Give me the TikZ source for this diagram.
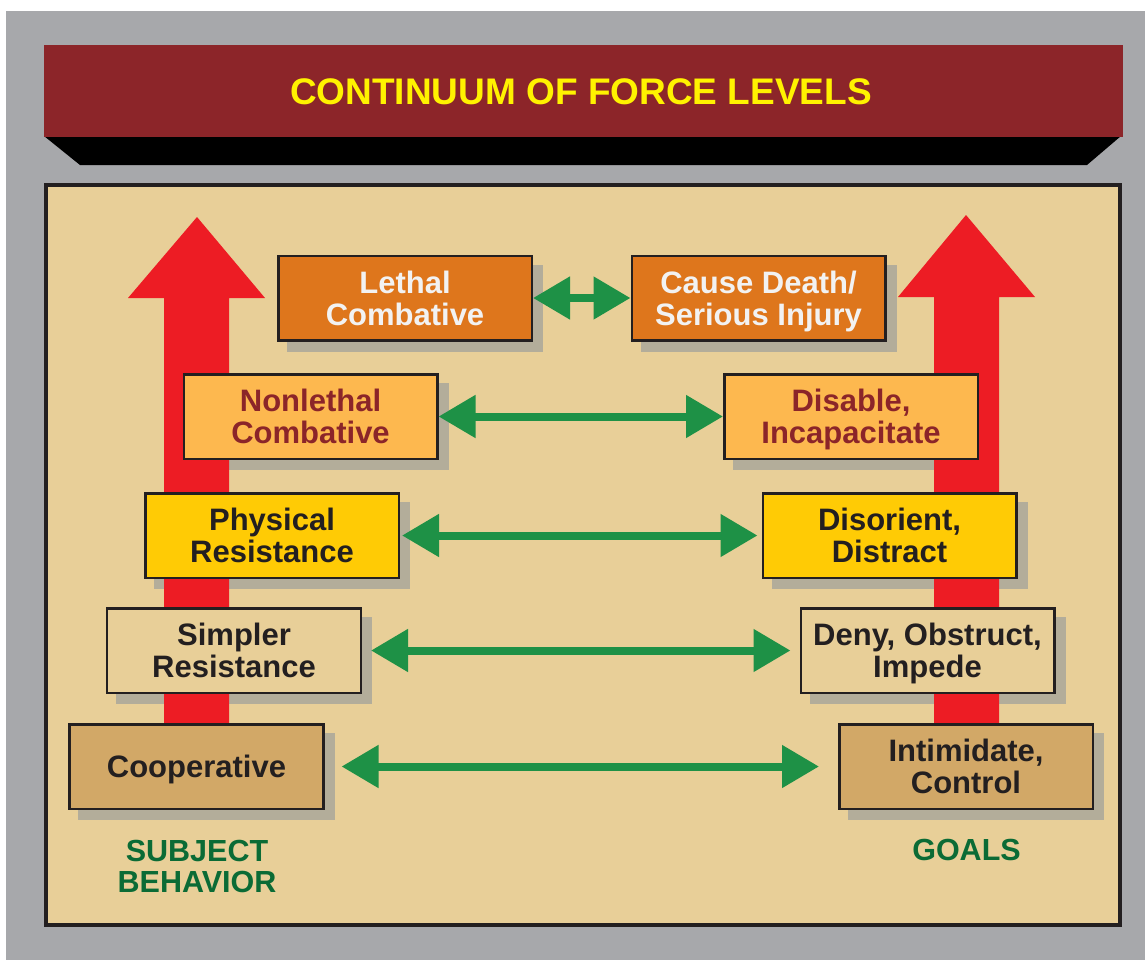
\documentclass[tikz,border=0pt]{standalone}
\usepackage{fontspec}
\setmainfont{Liberation Sans}
\usetikzlibrary{arrows.meta}
\definecolor{grayc}{HTML}{A7A8AB}
\definecolor{titlec}{HTML}{8C2529}
\definecolor{titletextc}{HTML}{FFF200}
\definecolor{panelc}{HTML}{E8CF98}
\definecolor{edgec}{HTML}{231F20}
\definecolor{redc}{HTML}{ED1C24}
\definecolor{greenc}{HTML}{1E9146}
\definecolor{labelc}{HTML}{0B6B35}
\definecolor{lethalc}{HTML}{DE761C}
\definecolor{whitec}{HTML}{F2F2F2}
\definecolor{nonc}{HTML}{FDB84F}
\definecolor{darkredc}{HTML}{8B2529}
\definecolor{physc}{HTML}{FFCB05}
\definecolor{coopc}{HTML}{D2A867}
\definecolor{shadowc}{HTML}{B3AD9A}
\pgfdeclarelayer{panel}
\pgfdeclarelayer{shadowl}
\pgfdeclarelayer{redl}
\pgfsetlayers{panel,shadowl,redl,main}
\tikzset{
  box/.style={draw=edgec, line width=2.5bp, minimum width=253.5bp, minimum height=84.5bp,
    inner sep=0pt, align=center, text height=54bp, text depth=0pt,
    font=\fontsize{31bp}{32bp}\selectfont\bfseries, text=edgec},
  oneline/.style={text height=22bp},
  link/.style={draw=greenc, line width=8bp, <->, >={Triangle[length=37bp,width=41bp]}},
  sidelabel/.style={align=center, text=labelc, font=\fontsize{30.5bp}{31bp}\selectfont\bfseries},
  redarrow/.style={fill=redc}
}
\begin{document}
\begin{tikzpicture}[x=1bp,y=-1bp]
\useasboundingbox (0,0) rectangle (1145,960);
\begin{pgfonlayer}{panel}
  \fill[white] (0,0) rectangle (1145,960);
  \fill[grayc] (6,11) rectangle (1145,960);
  \fill[black] (44,136) -- (1121,136) -- (1087,165) -- (80,165) -- cycle;
  \fill[titlec] (44,45) rectangle (1123,137);
  \draw[edgec, line width=4bp, fill=panelc] (46,185.3) rectangle (1119.7,925.3);
\end{pgfonlayer}

\node[text=titletextc, font=\fontsize{37bp}{40bp}\selectfont\bfseries] (title) at (581,91.5) {CONTINUUM OF FORCE LEVELS};

\node[box, fill=lethalc, text=whitec] (lethal) at (405,298) {Lethal\\Combative};
\node[box, fill=lethalc, text=whitec] (death) at (758.5,298) {Cause Death/\\Serious Injury};
\node[box, fill=nonc, text=darkredc] (nonlethal) at (310.5,416.5) {Nonlethal\\Combative};
\node[box, fill=nonc, text=darkredc] (disable) at (851,416.5) {Disable,\\Incapacitate};
\node[box, fill=physc] (physical) at (272,535.5) {Physical\\Resistance};
\node[box, fill=physc] (disorient) at (889.5,535.5) {Disorient,\\Distract};
\node[box, fill=panelc] (simpler) at (234,650.5) {Simpler\\Resistance};
\node[box, fill=panelc] (deny) at (927.5,650.5) {Deny, Obstruct,\\Impede};
\node[box, oneline, fill=coopc] (coop) at (196.5,766.5) {Cooperative};
\node[box, fill=coopc] (intim) at (966,766.5) {Intimidate,\\Control};

\begin{pgfonlayer}{shadowl}
  \foreach \n in {lethal,death,nonlethal,disable,physical,disorient,simpler,deny,coop,intim}
    \fill[shadowc] ([shift={(10bp,-10bp)}]\n.south west) rectangle ([shift={(10bp,-10bp)}]\n.north east);
\end{pgfonlayer}

\begin{pgfonlayer}{redl}
  \fill[redarrow] (164,740) -- (164,298) -- (128,298) -- (197,217) -- (265,298) -- (229,298) -- (229,740) -- cycle;
  \fill[redarrow] (934,740) -- (934,297) -- (898,297) -- (966,215) -- (1035,297) -- (999,297) -- (999,740) -- cycle;
\end{pgfonlayer}

\draw[link] (lethal.east) -- (death.west);
\draw[link] (nonlethal.east) -- (disable.west);
\draw[link, shorten <=2bp, shorten >=4bp] (physical.east) -- (disorient.west);
\draw[link, shorten <=9bp, shorten >=9bp] (simpler.east) -- (deny.west);
\draw[link, shorten <=17bp, shorten >=19bp] (coop.east) -- (intim.west);

\node[sidelabel] (subject) at (197,866.5) {SUBJECT\\BEHAVIOR};
\node[sidelabel] (goals) at (966.5,850) {GOALS};
\end{tikzpicture}
\end{document}
